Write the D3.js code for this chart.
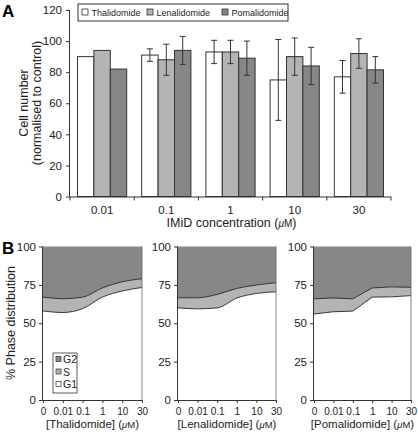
<!DOCTYPE html>
<html><head><meta charset="utf-8">
<script src="https://cdn.jsdelivr.net/npm/d3@7"></script>
<style>body{margin:0;background:#fff}svg{display:block;font-family:"Liberation Sans",Arial,sans-serif}</style>
</head><body><svg id="c" width="418" height="437"></svg>
<script>
// ---- Panel A data ----
const concentrations = ["0.01","0.1","1","10","30"];
const drugs = ["Thalidomide","Lenalidomide","Pomalidomide"];
const thalidomideMean = [90, 91, 93, 75, 77];
const lenalidomideMean = [94, 88, 93, 90, 92];
const pomalidomideMean = [82, 94, 89, 84, 81.5];
const thalidomideErr = [null, 4, 7.5, 26, 10.5];
const lenalidomideErr = [null, 10, 7.5, 12, 9.5];
const pomalidomideErr = [null, 9, 11, 12, 8.5];
const yTicksA = [0,20,40,60,80,100,120];

// ---- Panel B data ----
const doses = ["0","0.01","0.1","1","10","30"];
const thalG1 = [58, 57, 59.5, 67, 71, 73.3];
const thalS  = [9, 9, 7.5, 6, 6, 5.7];
const lenaG1 = [60, 59.4, 60, 66.4, 69.4, 70.5];
const lenaS  = [6.6, 7.2, 8.8, 6.3, 5.5, 5.9];
const pomaG1 = [56, 57.5, 57.9, 67, 67.2, 68];
const pomaS  = [9.9, 9, 8, 6, 6.5, 5.4];
const yTicksB = [0,25,50,75,100];
const phases = ["G2","S","G1"];

const colors = {white:"#ffffff", light:"#b4b4b4", dark:"#878787"};
const drugColors = [colors.white, colors.light, colors.dark];
const stroke = "#333";
const txt = "#222";

const svg = d3.select("#c");
function styleText(sel, fs){ sel.attr("font-size",fs).attr("fill",txt).attr("font-family","Liberation Sans, Arial"); }

// ================= Panel A =================
const A = {x0:70, x1:391, y0:196.5, y1:10};
const means = [thalidomideMean, lenalidomideMean, pomalidomideMean];
const errs = [thalidomideErr, lenalidomideErr, pomalidomideErr];
const xA = d3.scaleBand().domain(concentrations).range([A.x0, A.x1]).padding(0);
const xIn = d3.scaleBand().domain(drugs).range([7.5, xA.bandwidth()-7.5]).padding(0);
const yA = d3.scaleLinear().domain([0,120]).range([A.y0, A.y1]);

svg.append("text").attr("x",2).attr("y",17).attr("font-size",17).attr("font-weight","bold").text("A");

const gA = svg.append("g");
concentrations.forEach((c,i)=>{
  drugs.forEach((d,j)=>{
    const x = xA(c)+xIn(d);
    gA.append("rect").attr("x",x).attr("y",yA(means[j][i])).attr("width",xIn.bandwidth())
      .attr("height",yA(0)-yA(means[j][i])).attr("fill",drugColors[j]).attr("stroke",stroke).attr("stroke-width",1);
  });
});
concentrations.forEach((c,i)=>{
  drugs.forEach((d,j)=>{
    const e = errs[j][i]; if(e==null) return;
    const cx = xA(c)+xIn(d)+xIn.bandwidth()/2;
    const m = means[j][i];
    gA.append("line").attr("x1",cx).attr("x2",cx).attr("y1",yA(m+e)).attr("y2",yA(m-e)).attr("stroke",stroke);
    [m+e,m-e].forEach(v=>gA.append("line").attr("x1",cx-3).attr("x2",cx+3).attr("y1",yA(v)).attr("y2",yA(v)).attr("stroke",stroke));
  });
});

// y axis A
const yAxA = svg.append("g").attr("transform",`translate(${A.x0},0)`)
  .call(d3.axisLeft(yA).tickValues(yTicksA).tickSize(4).tickPadding(4));
yAxA.select(".domain").attr("stroke",stroke).attr("d",`M-0.5,${A.y0}V${A.y1}`);
yAxA.selectAll("line").attr("stroke",stroke);
styleText(yAxA.selectAll("text"), 11.5);

// x axis A
const xAxA = svg.append("g").attr("transform",`translate(0,${A.y0})`)
  .call(d3.axisBottom(xA).tickSize(0).tickPadding(9));
xAxA.select(".domain").attr("stroke",stroke).attr("d",`M${A.x0},0.5H${A.x1}`);
styleText(xAxA.selectAll("text"), 11.5);
concentrations.concat([null]).forEach((c,i)=>{
  const x = c==null ? A.x1 : xA(c);
  svg.append("line").attr("x1",x).attr("x2",x).attr("y1",A.y0).attr("y2",A.y0+4).attr("stroke",stroke);
});
svg.append("text").attr("x",(A.x0+A.x1)/2+1).attr("y",227).attr("text-anchor","middle").attr("font-size",12.5).attr("fill",txt)
  .html('IMiD concentration (<tspan font-style="italic" font-size="10">μ</tspan><tspan font-size="10">M</tspan>)');
svg.append("text").attr("transform","translate(28,103) rotate(-90)").attr("text-anchor","middle").attr("font-size",12.5).attr("fill",txt).text("Cell number");
svg.append("text").attr("transform","translate(41,103) rotate(-90)").attr("text-anchor","middle").attr("font-size",12.5).attr("fill",txt).text("(normalised to control)");

// legend A
const lg = svg.append("g");
lg.append("rect").attr("x",78).attr("y",4).attr("width",210).attr("height",17).attr("fill","#fff").attr("stroke",stroke);
const legX = [82, 147, 222];
drugs.forEach((d,j)=>{
  lg.append("rect").attr("x",legX[j]).attr("y",9).attr("width",6).attr("height",6).attr("fill",drugColors[j]).attr("stroke",stroke).attr("stroke-width",0.8);
  lg.append("text").attr("x",legX[j]+9.5).attr("y",16.2).attr("font-size",9).attr("fill",txt).text(d);
});

// ================= Panel B =================
svg.append("text").attr("x",2).attr("y",254).attr("font-size",17).attr("font-weight","bold").text("B");
const B = {y0:400, y1:246.5};
const panelsB = [
  {x0:43, x1:142, name:"Thalidomide", g1:thalG1, s:thalS, curve:d3.curveMonotoneX},
  {x0:178, x1:276, name:"Lenalidomide", g1:lenaG1, s:lenaS, curve:d3.curveMonotoneX},
  {x0:314, x1:411, name:"Pomalidomide", g1:pomaG1, s:pomaS, curve:d3.curveLinear}
];
const yB = d3.scaleLinear().domain([0,100]).range([B.y0, B.y1]);
panelsB.forEach((p,pi)=>{
  const xB = d3.scalePoint().domain(doses).range([p.x0, p.x1]);
  const rows = doses.map((d,i)=>({d, g1:p.g1[i], gs:p.g1[i]+p.s[i]}));
  const curve = p.curve;
  const g = svg.append("g");
  g.append("path").datum(rows).attr("fill",colors.dark)
    .attr("d",d3.area().x(r=>xB(r.d)).y0(yB(100)).y1(r=>yB(r.gs)).curve(curve));
  g.append("path").datum(rows).attr("fill",colors.light)
    .attr("d",d3.area().x(r=>xB(r.d)).y0(r=>yB(r.g1)).y1(r=>yB(r.gs)).curve(curve));
  g.append("path").datum(rows).attr("fill","#fff")
    .attr("d",d3.area().x(r=>xB(r.d)).y0(yB(0)).y1(r=>yB(r.g1)).curve(curve));
  g.append("path").datum(rows).attr("fill","none").attr("stroke","#222").attr("stroke-width",0.9)
    .attr("d",d3.line().x(r=>xB(r.d)).y(r=>yB(r.gs)).curve(curve));
  g.append("path").datum(rows).attr("fill","none").attr("stroke","#222").attr("stroke-width",0.9)
    .attr("d",d3.line().x(r=>xB(r.d)).y(r=>yB(r.g1)).curve(curve));
  g.append("path").attr("fill","none").attr("stroke","#666").attr("stroke-width",0.8)
    .attr("d",`M${p.x1},${B.y1}V${B.y0}`);
  const ya = svg.append("g").attr("transform",`translate(${p.x0},0)`)
    .call(d3.axisLeft(yB).tickValues(yTicksB).tickSize(4).tickPadding(3));
  ya.select(".domain").attr("stroke",stroke).attr("d",`M-0.5,${B.y0}V${B.y1}`);
  ya.selectAll("line").attr("stroke",stroke);
  styleText(ya.selectAll("text"), 11.5);
  const xa = svg.append("g").attr("transform",`translate(0,${B.y0})`)
    .call(d3.axisBottom(xB).tickSize(3).tickPadding(5));
  xa.select(".domain").attr("stroke",stroke).attr("d",`M${p.x0},0.5H${p.x1}`);
  xa.selectAll("line").attr("stroke",stroke);
  styleText(xa.selectAll("text"), 10);
  svg.append("text").attr("x",(p.x0+p.x1)/2).attr("y",428).attr("text-anchor","middle").attr("font-size",11.5).attr("fill",txt)
    .html(`[${p.name}] (<tspan font-style="italic" font-size="9.5">μ</tspan><tspan font-size="9.5">M</tspan>)`);
});
svg.append("text").attr("transform","translate(15,323) rotate(-90)").attr("text-anchor","middle").attr("font-size",12.5).attr("fill",txt).text("% Phase distribution");

// legend B
const lb = svg.append("g");
lb.append("rect").attr("x",53).attr("y",353).attr("width",24).attr("height",40).attr("fill","#fff").attr("stroke",stroke).attr("stroke-width",0.8);
const phaseColors = [colors.dark, colors.light, "#fff"];
phases.forEach((ph,i)=>{
  const yy = 359 + i*12.5;
  lb.append("rect").attr("x",56).attr("y",yy-2.5).attr("width",5).attr("height",5).attr("fill",phaseColors[i]).attr("stroke",stroke).attr("stroke-width",0.7);
  lb.append("text").attr("x",63).attr("y",yy+4).attr("font-size",10.5).attr("fill",txt).text(ph);
});
</script></body></html>
